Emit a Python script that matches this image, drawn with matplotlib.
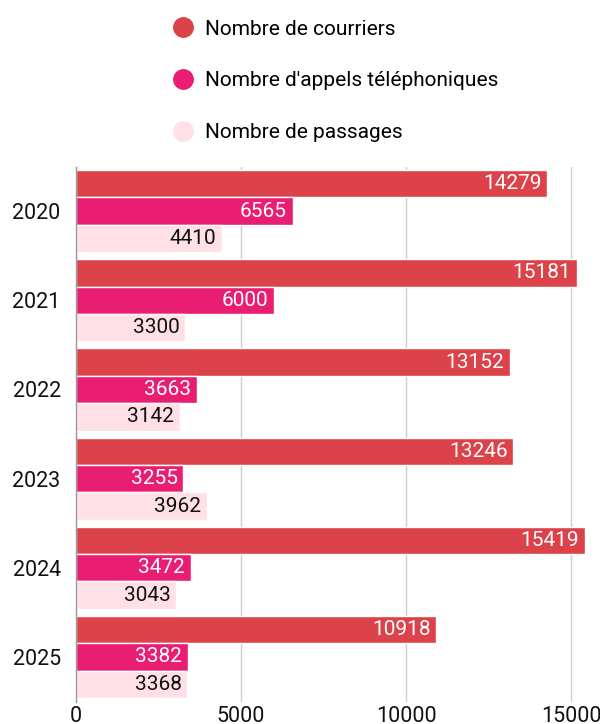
import numpy as np
import matplotlib.pyplot as plt
from matplotlib.lines import Line2D

plt.rcParams['font.family'] = ['Roboto', 'DejaVu Sans']

years = ['2020', '2021', '2022', '2023', '2024', '2025']
courriers = [14279, 15181, 13152, 13246, 15419, 10918]
appels = [6565, 6000, 3663, 3255, 3472, 3382]
passages = [4410, 3300, 3142, 3962, 3043, 3368]

series_names = ["Nombre de courriers", "Nombre d'appels téléphoniques", "Nombre de passages"]
colors = ['#DB4249', '#E91E73', '#FFE0E6']
text_colors = ['white', 'white', '#111111']

fig = plt.figure(figsize=(6, 7.24), dpi=100)
ax = fig.add_axes([0.1267, 0.031, 0.858, 0.739])

y = np.arange(len(years))
h = 0.307
for i, (vals, col, tcol) in enumerate(zip([courriers, appels, passages], colors, text_colors)):
    pos = y + (i - 1) * h
    ax.barh(pos, vals, height=h, color=col, edgecolor='white', linewidth=1, zorder=2)
    for p, v in zip(pos, vals):
        ax.annotate(str(v), (v, p), xytext=(-4, 0), textcoords='offset points',
                    ha='right', va='center', color=tcol, fontsize=15, zorder=3)

ax.set_ylim(len(years) - 0.5, -0.5)
ax.set_xlim(0, 15600)
ax.set_yticks(y)
ax.set_yticklabels(years)
ax.set_xticks([0, 5000, 10000, 15000])
ax.tick_params(axis='both', length=0, labelsize=15.5, colors='#111111')
ax.tick_params(axis='y', pad=11)
ax.tick_params(axis='x', pad=3)
ax.grid(axis='x', color='#cccccc', linewidth=1, zorder=0)
ax.set_axisbelow(True)
for s in ['top', 'right', 'bottom']:
    ax.spines[s].set_visible(False)
ax.spines['left'].set_color('#999999')
ax.spines['left'].set_linewidth(1)

handles = [Line2D([], [], marker='o', linestyle='none', markersize=14,
                  markerfacecolor=c, markeredgecolor=c) for c in colors]
fig.legend(handles, series_names, loc='upper left', bbox_to_anchor=(0.27, 0.9845),
           frameon=False, fontsize=15, labelspacing=1.58, handletextpad=0.47,
           borderaxespad=0.0, handlelength=1.2)

fig.savefig('out.png', dpi=100)
